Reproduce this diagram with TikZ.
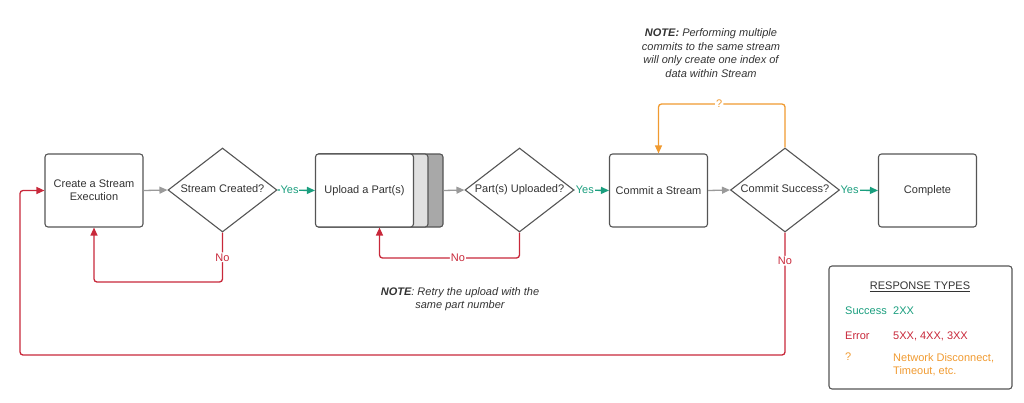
\documentclass[tikz,border=0pt]{standalone}
\usepackage{fontspec}
\setmainfont{Liberation Sans}
\usetikzlibrary{arrows.meta,shapes.geometric}
\definecolor{ygreen}{HTML}{1A9E7E}
\definecolor{nred}{HTML}{C8283A}
\definecolor{qorange}{HTML}{F09A30}
\definecolor{gline}{HTML}{9A9A9A}
\definecolor{bord}{HTML}{555555}
\definecolor{txt}{HTML}{333333}
\definecolor{stacklight}{HTML}{E0E0E0}
\definecolor{stackdark}{HTML}{A8A8A8}
\begin{document}
\begin{tikzpicture}[x=1pt,y=-1pt,
  font=\fontsize{11}{13}\selectfont, text=txt,
  box/.style={draw=bord, line width=1.1pt, rounded corners=3pt, fill=white,
    minimum width=98pt, minimum height=73pt, inner sep=0pt, align=center},
  stackbox/.style={draw=bord, line width=1.1pt, rounded corners=3pt,
    minimum height=73pt, inner sep=0pt},
  dia/.style={draw=bord, line width=1.1pt, diamond, minimum width=109pt,
    minimum height=84pt, inner sep=0pt, fill=white},
  dlabel/.style={text=txt, text height=8pt, text depth=2.5pt, inner sep=0pt},
  tip/.style={-{Triangle[length=8pt,width=7pt]}},
  garr/.style={gline, line width=1.3pt, tip},
  yarr/.style={ygreen, line width=1.3pt, tip},
  narr/.style={nred, line width=1.3pt, rounded corners=3pt, tip},
  oarr/.style={qorange, line width=1.3pt, rounded corners=3pt, tip},
  lbl/.style={fill=white, inner sep=1pt},
  note/.style={align=center, font=\fontsize{11}{13.5}\selectfont\itshape},
  legtext/.style={anchor=west, inner sep=0pt}
]
\useasboundingbox (0,0) rectangle (1024,402);

% nodes
\node[box] (b1) at (94,190.5) {Create a Stream\\Execution};
\node[dia, label={[dlabel]center:Stream Created?}] (d1) at (222.5,190) {};
\node[stackbox, fill=stackdark, minimum width=127pt] (b2back) at (379.5,190.5) {};
\node[stackbox, fill=stacklight, minimum width=112pt] (b2mid) at (372,190.5) {};
\node[box] (b2) at (364.5,190.5) {Upload a Part(s)};
\node[dia, label={[dlabel]center:Part(s) Uploaded?}] (d2) at (519.5,190) {};
\node[box] (b3) at (658.5,190.5) {Commit a Stream};
\node[dia, label={[dlabel]center:Commit Success?}] (d3) at (785,190) {};
\node[box] (b4) at (927.5,190.5) {Complete};

% notes
\node[note] (n1) at (460,299) {\textbf{NOTE}: Retry the upload with the\\same part number};
\node[note] (n2) at (711,53) {\textbf{NOTE:} Performing multiple\\commits to the same stream\\will only create one index of\\data within Stream};

% legend
\node[draw=bord, line width=1.1pt, rounded corners=3pt, minimum width=183pt, minimum height=123pt] (leg) at (920.5,327.5) {};
\node (legt) at (920,287) {\underline{RESPONSE TYPES}};
\node[legtext, text=ygreen] (l1a) at (845,311) {Success};
\node[legtext, text=ygreen] (l1b) at (893,311) {2XX};
\node[legtext, text=nred] (l2a) at (845,336) {Error};
\node[legtext, text=nred] (l2b) at (893,336) {5XX, 4XX, 3XX};
\node[legtext, text=qorange, anchor=north west] (l3a) at (845,353) {?};
\node[legtext, text=qorange, anchor=north west, align=left] (l3b) at (893,353) {Network Disconnect,\\Timeout, etc.};

% main flow
\draw[garr] (b1.east) -- (d1.west);
\draw[yarr] (d1.east) -- node[lbl, pos=0.32, text=ygreen] {Yes} (b2.west);
\draw[garr] (b2back.east) -- (d2.west);
\draw[yarr] (d2.east) -- node[lbl, pos=0.3, text=ygreen] {Yes} (b3.west);
\draw[garr] (b3.east) -- (d3.west);
\draw[yarr] (d3.east) -- node[lbl, pos=0.25, text=ygreen] {Yes} (b4.west);

% loops
\coordinate (c1a) at (222.5,282);
\coordinate (c1b) at (94,282);
\draw[narr] (d1.south) -- node[lbl, text=nred] {No} (c1a) -- (c1b) -- (b1.south);

\coordinate (c2a) at (519.5,258);
\coordinate (c2b) at (379.5,258);
\draw[narr] (d2.south) -- (c2a) -- node[lbl, pos=0.44, text=nred] {No} (c2b) -- (b2back.south);

\coordinate (c3a) at (785,355);
\coordinate (c3b) at (20,355);
\coordinate (c3c) at (20,190.5);
\draw[narr] (d3.south) -- node[lbl, pos=0.23, text=nred] {No} (c3a) -- (c3b) -- (c3c) -- (b1.west);

\coordinate (c4a) at (785,104);
\coordinate (c4b) at (658.5,104);
\draw[oarr] (d3.north) -- (c4a) -- node[lbl, pos=0.52, text=qorange] {?} (c4b) -- (b3.north);
\end{tikzpicture}
\end{document}
